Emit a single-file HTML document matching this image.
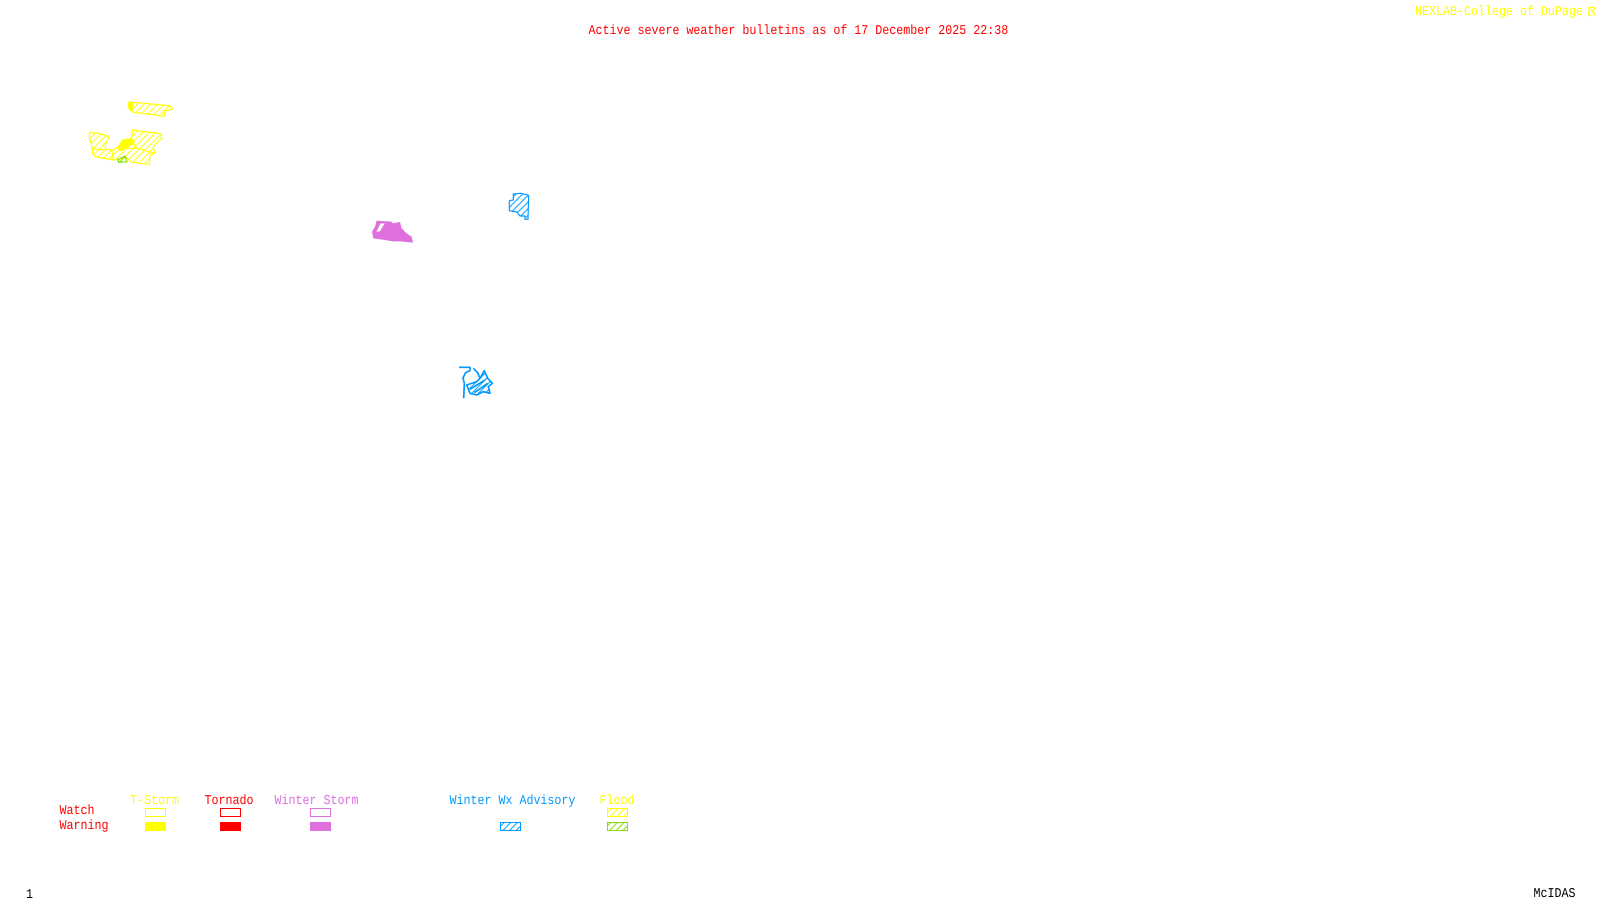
<!DOCTYPE html>
<html>
<head>
<meta charset="utf-8">
<title>Active severe weather bulletins</title>
<style>
html,body{margin:0;padding:0;background:#fff;width:1600px;height:900px;overflow:hidden}
svg{position:absolute;left:0;top:0;display:block}
text{font-family:"Liberation Mono",monospace;font-size:11.67px;text-rendering:geometricPrecision}
</style>
</head>
<body>
<svg width="1600" height="900" viewBox="0 0 1600 900" xmlns="http://www.w3.org/2000/svg">
<defs>
<pattern id="hy" width="20" height="20" patternUnits="userSpaceOnUse">
<path d="M-3 3L3 -3M0 20L20 0M17 23L23 17" stroke="#ffff00" stroke-width="3" fill="none"/>
</pattern>
<pattern id="hb" width="20" height="20" patternUnits="userSpaceOnUse">
<path d="M-3 3L3 -3M0 20L20 0M17 23L23 17" stroke="#0099ff" stroke-width="3" fill="none"/>
</pattern>
<pattern id="hg" width="20" height="20" patternUnits="userSpaceOnUse">
<path d="M-3 3L3 -3M0 20L20 0M17 23L23 17" stroke="#88dd00" stroke-width="3" fill="none"/>
</pattern>
</defs>

<text transform="translate(588.5 34) scale(1 1.15)" fill="#ff0000">Active severe weather bulletins as of 17 December 2025 22:38</text>
<text transform="translate(1415 15) scale(1 1.15)" fill="#ffff00">NEXLAB-College of DuPage</text>
<g fill="none" stroke="#ffff00" stroke-width="1.3">
<path d="M1588.5 7.5H1595M1589 7.5V15.5H1591M1591 9.5L1595.5 15.5M1595 8.5L1592 11.5"/>
</g>

<!-- yellow / green shapes -->
<g transform="translate(70 85) scale(.33333)" stroke-width="3.5" stroke-linejoin="round">
<path d="M178 50L190 52L300 62L308 72L285 78L282 94L240 88L190 82L178 72L175 60Z" fill="url(#hy)" stroke="#ffff00"/>
<path d="M175 55L183 48L190 55V78H178L175 70Z" fill="#ffff00"/>
<path d="M58 142L90 146L110 152L117 156L108 175L105 193L130 195L145 185L160 170L183 165L188 135L272 146L276 158L250 185L254 205L240 210L238 238L185 232L170 218L145 222L130 225L75 215L68 205L65 180L58 160Z" fill="url(#hy)" stroke="#ffff00"/>
<path d="M160 190L205 190L250 205M200 190L185 165M125 195L130 225M68 190L100 195" fill="none" stroke="#ffff00"/>
<path d="M145 185L158 166L185 160L192 175L165 190L150 198Z" fill="#ffff00" stroke="#ffff00"/>
<path d="M144 224L165 213L171 230L146 232Z" fill="url(#hg)" stroke="#88dd00"/>
</g>

<!-- pink and blue shapes -->
<g transform="translate(350 180) scale(.33333)" stroke-linejoin="round">
<path fill-rule="evenodd" d="M80 122L125 125L128 130L150 126L155 145L170 160L185 170L189 188L150 184L130 184L105 180L70 175L66 155L75 140ZM79 155L90 154L104 130L92 130Z" fill="#dd70dd"/>
<path d="M490 42L512 40L536 46L534 118L525 118L525 108L510 108L500 96L478 92V62L490 60Z" fill="url(#hb)" stroke="#0099ff" stroke-width="3.5"/>
</g>

<g transform="translate(435 350) scale(.33333)" stroke-linejoin="round" stroke="#0099ff" stroke-width="5" fill="none">
<path d="M72 52H105V62L92 68L84 84L88 100L86 145"/>
<path d="M115 55L128 68L135 85L148 62L158 85L172 100L160 110L165 130L145 125L125 135L105 130L95 105L125 95L135 85" fill="url(#hb)"/>
<path d="M105 118L150 90M118 128L158 100"/>
</g>

<!-- legend text -->
<text transform="translate(130 804) scale(1 1.15)" fill="#ffff00">T-Storm</text>
<text transform="translate(204.5 804) scale(1 1.15)" fill="#ff0000">Tornado</text>
<text transform="translate(274.5 804) scale(1 1.15)" fill="#dd70dd">Winter Storm</text>
<text transform="translate(449.5 804) scale(1 1.15)" fill="#0099ff">Winter Wx Advisory</text>
<text transform="translate(599.5 804) scale(1 1.15)" fill="#ffff00">Flood</text>
<text transform="translate(59.5 814) scale(1 1.15)" fill="#ff0000">Watch</text>
<text transform="translate(59.5 829) scale(1 1.15)" fill="#ff0000">Warning</text>

<!-- legend boxes -->
<g stroke-width="1">
<rect x="145.5" y="808.5" width="20" height="8" fill="none" stroke="#ffff00"/>
<rect x="145" y="822" width="21" height="9" fill="#ffff00"/>
<rect x="220.5" y="808.5" width="20" height="8" fill="none" stroke="#ff0000"/>
<rect x="220" y="822" width="21" height="9" fill="#ff0000"/>
<rect x="310.5" y="808.5" width="20" height="8" fill="none" stroke="#dd70dd"/>
<rect x="310" y="822" width="21" height="9" fill="#dd70dd"/>
</g>
<g transform="scale(.33333)" stroke-width="3">
<rect x="1501.5" y="2467.5" width="60" height="24" fill="url(#hb)" stroke="#0099ff"/>
<rect x="1822.5" y="2425.5" width="60" height="24" fill="url(#hy)" stroke="#ffff00"/>
<rect x="1822.5" y="2467.5" width="60" height="24" fill="url(#hg)" stroke="#88dd00"/>
</g>

<text transform="translate(26 898) scale(1 1.15)" fill="#000000">1</text>
<text transform="translate(1533.5 897) scale(1 1.15)" fill="#000000">McIDAS</text>
</svg>
</body>
</html>
